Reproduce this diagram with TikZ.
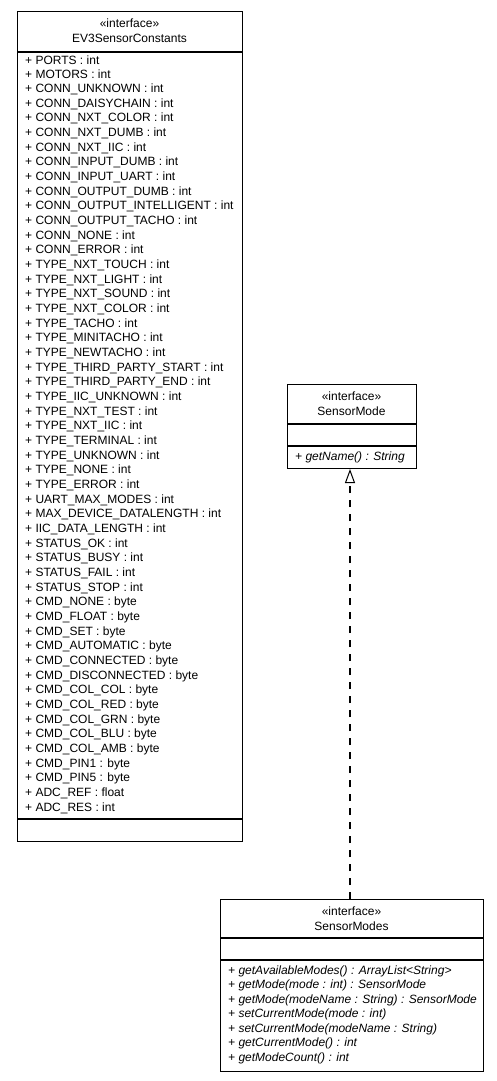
\documentclass[tikz,border=0pt]{standalone}
\usepackage{fontspec}
\setmainfont{Liberation Sans}
\usetikzlibrary{arrows.meta}
\begin{document}
\begin{tikzpicture}[x=1pt,y=-1pt,
  box/.style={draw,line width=1pt,inner sep=0pt,anchor=north west},
  txt/.style={inner sep=0pt,anchor=west,font=\fontsize{12}{14}\selectfont},
  ctr/.style={inner sep=0pt,anchor=center,font=\fontsize{12}{14}\selectfont},
  divl/.style={line width=1.2pt},
  realize/.style={dashed,dash pattern=on 7pt off 7pt,line width=1.2pt,-{Triangle[open,length=14pt,width=10pt,line width=1pt]}}]
\useasboundingbox (0,0) rectangle (497,1081);
% EV3SensorConstants
\node[box,minimum width=225pt,minimum height=830pt] (c1) at (17,11) {};
\node[ctr] (c1s) at (129.5,23) {«interface»};
\node[ctr] (c1n) at (129.5,38) {EV3SensorConstants};
\draw[divl] (17,52) -- (242,52);
\draw[divl] (17,819) -- (242,819);
\foreach \t [count=\i from 0] in {PORTS : int,MOTORS : int,CONN\_UNKNOWN : int,CONN\_DAISYCHAIN : int,CONN\_NXT\_COLOR : int,CONN\_NXT\_DUMB : int,CONN\_NXT\_IIC : int,CONN\_INPUT\_DUMB : int,CONN\_INPUT\_UART : int,CONN\_OUTPUT\_DUMB : int,CONN\_OUTPUT\_INTELLIGENT : int,CONN\_OUTPUT\_TACHO : int,CONN\_NONE : int,CONN\_ERROR : int,TYPE\_NXT\_TOUCH : int,TYPE\_NXT\_LIGHT : int,TYPE\_NXT\_SOUND : int,TYPE\_NXT\_COLOR : int,TYPE\_TACHO : int,TYPE\_MINITACHO : int,TYPE\_NEWTACHO : int,TYPE\_THIRD\_PARTY\_START : int,TYPE\_THIRD\_PARTY\_END : int,TYPE\_IIC\_UNKNOWN : int,TYPE\_NXT\_TEST : int,TYPE\_NXT\_IIC : int,TYPE\_TERMINAL : int,TYPE\_UNKNOWN : int,TYPE\_NONE : int,TYPE\_ERROR : int,UART\_MAX\_MODES : int,MAX\_DEVICE\_DATALENGTH : int,IIC\_DATA\_LENGTH : int,STATUS\_OK : int,STATUS\_BUSY : int,STATUS\_FAIL : int,STATUS\_STOP : int,CMD\_NONE : byte,CMD\_FLOAT : byte,CMD\_SET : byte,CMD\_AUTOMATIC : byte,CMD\_CONNECTED : byte,CMD\_DISCONNECTED : byte,CMD\_COL\_COL : byte,CMD\_COL\_RED : byte,CMD\_COL\_GRN : byte,CMD\_COL\_BLU : byte,CMD\_COL\_AMB : byte,CMD\_PIN1 : byte,CMD\_PIN5 : byte,ADC\_REF : float,ADC\_RES : int}
  \node[txt] (a\i) at (25,{60+14.67*\i}) {+ \t};
% SensorMode
\node[box,minimum width=129pt,minimum height=84pt] (c2) at (287,384) {};
\node[ctr] (c2s) at (351.5,396) {«interface»};
\node[ctr] (c2n) at (351.5,411) {SensorMode};
\draw[divl] (287,424) -- (416,424);
\draw[divl] (287,446) -- (416,446);
\node[txt,font=\fontsize{12}{14}\selectfont\itshape] (m21) at (295,457) {+ getName() : String};
% SensorModes
\node[box,minimum width=263pt,minimum height=172pt] (c3) at (220,899) {};
\node[ctr] (c3s) at (351.5,911) {«interface»};
\node[ctr] (c3n) at (351.5,926) {SensorModes};
\draw[divl] (220,938) -- (483,938);
\draw[divl] (220,960) -- (483,960);
\foreach \t [count=\i from 0] in {getAvailableModes() : ArrayList<String>,getMode(mode : int) : SensorMode,getMode(modeName : String) : SensorMode,setCurrentMode(mode : int),setCurrentMode(modeName : String),getCurrentMode() : int,getModeCount() : int}
  \node[txt,font=\fontsize{12}{14}\selectfont\itshape] (m3\i) at (228,{971+14.5*\i}) {+ \t};
% realization
\draw[realize] (c3.north -| 350,0) -- (c2.south -| 350,0);
\end{tikzpicture}
\end{document}
